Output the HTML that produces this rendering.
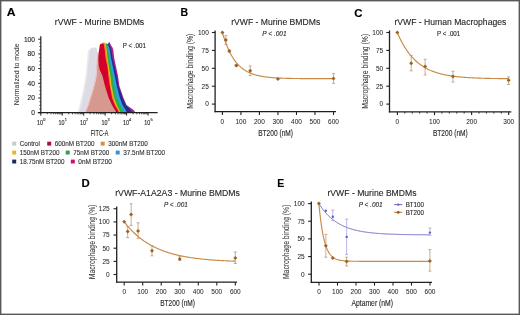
<!DOCTYPE html>
<html><head><meta charset="utf-8"><style>
html,body{margin:0;padding:0;background:#fff;}
.fig{position:relative;width:520px;height:315px;overflow:hidden;background:#fff;}
svg{position:absolute;left:0;top:0;will-change:transform;}
text{font-family:"Liberation Sans", sans-serif;}
</style></head><body><div class="fig">
<svg width="520" height="315" viewBox="0 0 520 315">
<rect x="0" y="0" width="520" height="315" fill="#fff"/>
<text x="6.70" y="16.10" font-size="11.4" fill="#000" stroke="#000" stroke-width="0.12" font-weight="bold" textLength="8.8" lengthAdjust="spacingAndGlyphs">A</text>
<text x="180.50" y="16.30" font-size="11.4" fill="#000" stroke="#000" stroke-width="0.12" font-weight="bold" textLength="7.6" lengthAdjust="spacingAndGlyphs">B</text>
<text x="354.20" y="16.60" font-size="11.4" fill="#000" stroke="#000" stroke-width="0.12" font-weight="bold">C</text>
<text x="81.40" y="187.00" font-size="11.4" fill="#000" stroke="#000" stroke-width="0.12" font-weight="bold">D</text>
<text x="277.20" y="187.00" font-size="11.4" fill="#000" stroke="#000" stroke-width="0.12" font-weight="bold" textLength="7.0" lengthAdjust="spacingAndGlyphs">E</text>
<text x="54.80" y="25.30" font-size="9.2" fill="#231f20" stroke="#231f20" stroke-width="0.12" textLength="89.4" lengthAdjust="spacingAndGlyphs">rVWF - Murine BMDMs</text>
<text x="122.70" y="47.90" font-size="6.5" fill="#231f20" stroke="#231f20" stroke-width="0.12" textLength="23.3" lengthAdjust="spacingAndGlyphs">P &lt; .001</text>
<path d="M88.00,112.70 L88.30,111.00 L90.50,105.00 L93.50,95.00 L95.30,88.00 L97.00,80.00 L98.30,75.00 L102.50,65.00 L104.20,55.00 L105.10,50.00 L105.80,45.00 L108.20,43.50 L109.30,41.80 L110.30,44.00 L111.50,46.00 L112.50,47.50 L113.30,50.00 L114.20,58.00 L115.90,66.00 L118.00,76.00 L119.40,86.00 L123.50,98.00 L126.50,105.00 L133.70,110.00 L135.50,112.70 Z" fill="#b0208f"/>
<path d="M87.50,112.70 L87.80,111.00 L90.00,105.00 L93.00,95.00 L94.80,88.00 L96.50,80.00 L97.80,75.00 L101.50,65.00 L103.20,55.00 L104.10,50.00 L104.80,45.00 L107.50,44.50 L108.50,43.60 L109.50,45.00 L110.50,47.50 L111.30,50.00 L112.50,58.00 L114.50,66.00 L116.80,76.00 L118.50,86.00 L122.80,98.00 L125.80,105.00 L130.60,110.00 L132.50,112.70 Z" fill="#1f2f8a"/>
<path d="M87.00,112.70 L87.30,111.00 L89.50,105.00 L92.50,95.00 L94.30,88.00 L96.00,80.00 L97.30,75.00 L100.50,65.00 L102.20,55.00 L103.10,50.00 L103.80,45.00 L106.80,44.00 L107.80,44.50 L108.80,46.50 L109.90,50.00 L111.00,58.00 L112.70,66.00 L114.80,76.00 L116.80,86.00 L119.90,98.00 L122.50,105.00 L125.70,110.00 L127.00,112.70 Z" fill="#2f9ee0"/>
<path d="M86.50,112.70 L86.80,111.00 L89.00,105.00 L92.00,95.00 L93.80,88.00 L95.50,80.00 L96.80,75.00 L99.50,65.00 L101.20,55.00 L102.10,50.00 L102.80,45.00 L105.50,43.50 L106.50,43.20 L107.50,45.50 L108.10,50.00 L109.30,58.00 L110.70,66.00 L112.70,76.00 L114.40,86.00 L116.70,98.00 L120.00,105.00 L122.60,110.00 L124.00,112.70 Z" fill="#2fae48"/>
<path d="M86.00,112.70 L86.30,111.00 L88.50,105.00 L91.50,95.00 L93.30,88.00 L95.00,80.00 L96.30,75.00 L98.50,65.00 L100.20,55.00 L101.10,50.00 L101.80,45.00 L103.30,42.60 L104.30,42.30 L105.30,43.30 L106.00,46.00 L106.60,50.00 L107.50,58.00 L108.70,66.00 L110.30,76.00 L111.50,86.00 L114.00,98.00 L116.80,105.00 L119.20,110.00 L120.50,112.70 Z" fill="#f8c81a"/>
<path d="M85.60,112.70 L85.90,111.00 L88.10,105.00 L91.10,95.00 L92.90,88.00 L94.60,80.00 L95.90,75.00 L97.70,65.00 L99.40,55.00 L100.30,50.00 L101.00,45.00 L102.50,43.00 L103.50,42.60 L104.50,43.00 L105.30,46.00 L106.00,50.00 L107.00,58.00 L108.10,66.00 L109.60,76.00 L110.70,86.00 L113.30,98.00 L116.00,105.00 L118.60,110.00 L120.00,112.70 Z" fill="#f0861e"/>
<path d="M85.00,112.70 L85.30,111.00 L87.50,105.00 L90.50,95.00 L92.30,88.00 L94.00,80.00 L95.30,75.00 L96.50,65.00 L98.20,55.00 L99.10,50.00 L99.80,45.00 L100.00,44.50 L101.00,43.70 L102.50,43.50 L103.80,44.20 L104.70,50.00 L105.50,58.00 L107.30,66.00 L108.40,76.00 L109.80,86.00 L112.10,98.00 L114.80,105.00 L117.70,110.00 L119.00,112.70 Z" fill="#d2002a"/>
<path d="M77.40,112.70 L78.00,111.00 L79.60,105.00 L82.00,95.00 L84.90,80.00 L86.10,70.00 L87.10,60.00 L87.70,52.00 L88.10,50.60 L90.00,49.50 L97.20,52.00 L96.60,65.00 L96.00,75.00 L95.20,80.00 L93.20,88.00 L91.00,95.00 L88.00,105.00 L85.50,111.00 L85.00,112.70 Z" fill="#ebebef"/>
<path d="M79.00,112.70 L79.60,111.00 L81.20,105.00 L83.60,95.00 L86.50,80.00 L87.70,70.00 L88.70,60.00 L89.30,52.00 L89.70,50.60 L90.30,48.60 L90.80,49.30 L91.50,47.60 L92.20,48.40 L92.80,46.80 L93.50,47.90 L94.20,47.10 L95.00,48.10 L95.80,47.40 L96.50,48.60 L97.00,49.80 L97.20,52.00 L96.60,65.00 L96.00,75.00 L95.20,80.00 L93.20,88.00 L91.00,95.00 L88.00,105.00 L85.50,111.00 L85.00,112.70 Z" fill="#dddce5"/>
<path d="M97.20,52.00 L96.60,65.00 L96.00,75.00 L95.20,80.00 L93.20,88.00 L91.00,95.00 L88.00,105.00 L85.50,111.00 L85.00,112.70 L116.50,112.70 L115.00,110.00 L112.00,105.00 L108.70,98.00 L105.00,86.00 L102.50,76.00 L99.80,70.00 L98.80,66.00 L98.40,60.00 L98.50,53.00 Z" fill="#d6988f"/>
<path d="M97.50,52.00 L96.90,65.00 L96.30,75.00 L95.50,80.00 L93.50,88.00 L91.30,95.00 L88.30,105.00 L85.80,111.00 L85.30,112.70" fill="none" stroke="#f0d4d2" stroke-width="0.9"/>
<line x1="40.80" y1="36.30" x2="40.80" y2="113.20" stroke="#231f20" stroke-width="1.2"/>
<line x1="37.80" y1="112.70" x2="157.60" y2="112.70" stroke="#231f20" stroke-width="1.2"/>
<line x1="38.20" y1="112.70" x2="40.80" y2="112.70" stroke="#231f20" stroke-width="1"/>
<text x="34.90" y="115.10" font-size="6.6" fill="#231f20" stroke="#231f20" stroke-width="0.12" text-anchor="end">0</text>
<line x1="39.40" y1="109.03" x2="40.80" y2="109.03" stroke="#231f20" stroke-width="0.9"/>
<line x1="39.40" y1="105.35" x2="40.80" y2="105.35" stroke="#231f20" stroke-width="0.9"/>
<line x1="39.40" y1="101.68" x2="40.80" y2="101.68" stroke="#231f20" stroke-width="0.9"/>
<line x1="38.20" y1="98.00" x2="40.80" y2="98.00" stroke="#231f20" stroke-width="1"/>
<text x="34.90" y="100.40" font-size="6.6" fill="#231f20" stroke="#231f20" stroke-width="0.12" text-anchor="end">20</text>
<line x1="39.40" y1="94.33" x2="40.80" y2="94.33" stroke="#231f20" stroke-width="0.9"/>
<line x1="39.40" y1="90.65" x2="40.80" y2="90.65" stroke="#231f20" stroke-width="0.9"/>
<line x1="39.40" y1="86.97" x2="40.80" y2="86.97" stroke="#231f20" stroke-width="0.9"/>
<line x1="38.20" y1="83.30" x2="40.80" y2="83.30" stroke="#231f20" stroke-width="1"/>
<text x="34.90" y="85.70" font-size="6.6" fill="#231f20" stroke="#231f20" stroke-width="0.12" text-anchor="end">40</text>
<line x1="39.40" y1="79.63" x2="40.80" y2="79.63" stroke="#231f20" stroke-width="0.9"/>
<line x1="39.40" y1="75.95" x2="40.80" y2="75.95" stroke="#231f20" stroke-width="0.9"/>
<line x1="39.40" y1="72.28" x2="40.80" y2="72.28" stroke="#231f20" stroke-width="0.9"/>
<line x1="38.20" y1="68.60" x2="40.80" y2="68.60" stroke="#231f20" stroke-width="1"/>
<text x="34.90" y="71.00" font-size="6.6" fill="#231f20" stroke="#231f20" stroke-width="0.12" text-anchor="end">60</text>
<line x1="39.40" y1="64.93" x2="40.80" y2="64.93" stroke="#231f20" stroke-width="0.9"/>
<line x1="39.40" y1="61.25" x2="40.80" y2="61.25" stroke="#231f20" stroke-width="0.9"/>
<line x1="39.40" y1="57.58" x2="40.80" y2="57.58" stroke="#231f20" stroke-width="0.9"/>
<line x1="38.20" y1="53.90" x2="40.80" y2="53.90" stroke="#231f20" stroke-width="1"/>
<text x="34.90" y="56.30" font-size="6.6" fill="#231f20" stroke="#231f20" stroke-width="0.12" text-anchor="end">80</text>
<line x1="39.40" y1="50.23" x2="40.80" y2="50.23" stroke="#231f20" stroke-width="0.9"/>
<line x1="39.40" y1="46.55" x2="40.80" y2="46.55" stroke="#231f20" stroke-width="0.9"/>
<line x1="39.40" y1="42.88" x2="40.80" y2="42.88" stroke="#231f20" stroke-width="0.9"/>
<line x1="38.20" y1="39.20" x2="40.80" y2="39.20" stroke="#231f20" stroke-width="1"/>
<text x="34.90" y="41.60" font-size="6.6" fill="#231f20" stroke="#231f20" stroke-width="0.12" text-anchor="end">100</text>
<line x1="40.80" y1="112.70" x2="40.80" y2="115.60" stroke="#231f20" stroke-width="1"/>
<text x="37.10" y="124.90" font-size="6.4" fill="#231f20" stroke="#231f20" stroke-width="0.12" textLength="6.0" lengthAdjust="spacingAndGlyphs">10</text>
<text x="43.20" y="121.30" font-size="3.9" fill="#231f20" stroke="#231f20" stroke-width="0.12">0</text>
<line x1="47.26" y1="112.70" x2="47.26" y2="114.30" stroke="#231f20" stroke-width="0.8"/>
<line x1="51.03" y1="112.70" x2="51.03" y2="114.30" stroke="#231f20" stroke-width="0.8"/>
<line x1="53.71" y1="112.70" x2="53.71" y2="114.30" stroke="#231f20" stroke-width="0.8"/>
<line x1="55.79" y1="112.70" x2="55.79" y2="114.30" stroke="#231f20" stroke-width="0.8"/>
<line x1="57.49" y1="112.70" x2="57.49" y2="114.30" stroke="#231f20" stroke-width="0.8"/>
<line x1="58.93" y1="112.70" x2="58.93" y2="114.30" stroke="#231f20" stroke-width="0.8"/>
<line x1="60.17" y1="112.70" x2="60.17" y2="114.30" stroke="#231f20" stroke-width="0.8"/>
<line x1="61.27" y1="112.70" x2="61.27" y2="114.30" stroke="#231f20" stroke-width="0.8"/>
<line x1="62.25" y1="112.70" x2="62.25" y2="115.60" stroke="#231f20" stroke-width="1"/>
<text x="58.55" y="124.90" font-size="6.4" fill="#231f20" stroke="#231f20" stroke-width="0.12" textLength="6.0" lengthAdjust="spacingAndGlyphs">10</text>
<text x="64.65" y="121.30" font-size="3.9" fill="#231f20" stroke="#231f20" stroke-width="0.12">1</text>
<line x1="68.71" y1="112.70" x2="68.71" y2="114.30" stroke="#231f20" stroke-width="0.8"/>
<line x1="72.48" y1="112.70" x2="72.48" y2="114.30" stroke="#231f20" stroke-width="0.8"/>
<line x1="75.16" y1="112.70" x2="75.16" y2="114.30" stroke="#231f20" stroke-width="0.8"/>
<line x1="77.24" y1="112.70" x2="77.24" y2="114.30" stroke="#231f20" stroke-width="0.8"/>
<line x1="78.94" y1="112.70" x2="78.94" y2="114.30" stroke="#231f20" stroke-width="0.8"/>
<line x1="80.38" y1="112.70" x2="80.38" y2="114.30" stroke="#231f20" stroke-width="0.8"/>
<line x1="81.62" y1="112.70" x2="81.62" y2="114.30" stroke="#231f20" stroke-width="0.8"/>
<line x1="82.72" y1="112.70" x2="82.72" y2="114.30" stroke="#231f20" stroke-width="0.8"/>
<line x1="83.70" y1="112.70" x2="83.70" y2="115.60" stroke="#231f20" stroke-width="1"/>
<text x="80.00" y="124.90" font-size="6.4" fill="#231f20" stroke="#231f20" stroke-width="0.12" textLength="6.0" lengthAdjust="spacingAndGlyphs">10</text>
<text x="86.10" y="121.30" font-size="3.9" fill="#231f20" stroke="#231f20" stroke-width="0.12">2</text>
<line x1="90.16" y1="112.70" x2="90.16" y2="114.30" stroke="#231f20" stroke-width="0.8"/>
<line x1="93.93" y1="112.70" x2="93.93" y2="114.30" stroke="#231f20" stroke-width="0.8"/>
<line x1="96.61" y1="112.70" x2="96.61" y2="114.30" stroke="#231f20" stroke-width="0.8"/>
<line x1="98.69" y1="112.70" x2="98.69" y2="114.30" stroke="#231f20" stroke-width="0.8"/>
<line x1="100.39" y1="112.70" x2="100.39" y2="114.30" stroke="#231f20" stroke-width="0.8"/>
<line x1="101.83" y1="112.70" x2="101.83" y2="114.30" stroke="#231f20" stroke-width="0.8"/>
<line x1="103.07" y1="112.70" x2="103.07" y2="114.30" stroke="#231f20" stroke-width="0.8"/>
<line x1="104.17" y1="112.70" x2="104.17" y2="114.30" stroke="#231f20" stroke-width="0.8"/>
<line x1="105.15" y1="112.70" x2="105.15" y2="115.60" stroke="#231f20" stroke-width="1"/>
<text x="101.45" y="124.90" font-size="6.4" fill="#231f20" stroke="#231f20" stroke-width="0.12" textLength="6.0" lengthAdjust="spacingAndGlyphs">10</text>
<text x="107.55" y="121.30" font-size="3.9" fill="#231f20" stroke="#231f20" stroke-width="0.12">3</text>
<line x1="111.61" y1="112.70" x2="111.61" y2="114.30" stroke="#231f20" stroke-width="0.8"/>
<line x1="115.38" y1="112.70" x2="115.38" y2="114.30" stroke="#231f20" stroke-width="0.8"/>
<line x1="118.06" y1="112.70" x2="118.06" y2="114.30" stroke="#231f20" stroke-width="0.8"/>
<line x1="120.14" y1="112.70" x2="120.14" y2="114.30" stroke="#231f20" stroke-width="0.8"/>
<line x1="121.84" y1="112.70" x2="121.84" y2="114.30" stroke="#231f20" stroke-width="0.8"/>
<line x1="123.28" y1="112.70" x2="123.28" y2="114.30" stroke="#231f20" stroke-width="0.8"/>
<line x1="124.52" y1="112.70" x2="124.52" y2="114.30" stroke="#231f20" stroke-width="0.8"/>
<line x1="125.62" y1="112.70" x2="125.62" y2="114.30" stroke="#231f20" stroke-width="0.8"/>
<line x1="126.60" y1="112.70" x2="126.60" y2="115.60" stroke="#231f20" stroke-width="1"/>
<text x="122.90" y="124.90" font-size="6.4" fill="#231f20" stroke="#231f20" stroke-width="0.12" textLength="6.0" lengthAdjust="spacingAndGlyphs">10</text>
<text x="129.00" y="121.30" font-size="3.9" fill="#231f20" stroke="#231f20" stroke-width="0.12">4</text>
<line x1="133.06" y1="112.70" x2="133.06" y2="114.30" stroke="#231f20" stroke-width="0.8"/>
<line x1="136.83" y1="112.70" x2="136.83" y2="114.30" stroke="#231f20" stroke-width="0.8"/>
<line x1="139.51" y1="112.70" x2="139.51" y2="114.30" stroke="#231f20" stroke-width="0.8"/>
<line x1="141.59" y1="112.70" x2="141.59" y2="114.30" stroke="#231f20" stroke-width="0.8"/>
<line x1="143.29" y1="112.70" x2="143.29" y2="114.30" stroke="#231f20" stroke-width="0.8"/>
<line x1="144.73" y1="112.70" x2="144.73" y2="114.30" stroke="#231f20" stroke-width="0.8"/>
<line x1="145.97" y1="112.70" x2="145.97" y2="114.30" stroke="#231f20" stroke-width="0.8"/>
<line x1="147.07" y1="112.70" x2="147.07" y2="114.30" stroke="#231f20" stroke-width="0.8"/>
<line x1="148.05" y1="112.70" x2="148.05" y2="115.60" stroke="#231f20" stroke-width="1"/>
<text x="144.35" y="124.90" font-size="6.4" fill="#231f20" stroke="#231f20" stroke-width="0.12" textLength="6.0" lengthAdjust="spacingAndGlyphs">10</text>
<text x="150.45" y="121.30" font-size="3.9" fill="#231f20" stroke="#231f20" stroke-width="0.12">5</text>
<text x="90.70" y="136.00" font-size="8.3" fill="#231f20" stroke="#231f20" stroke-width="0.12" textLength="17.6" lengthAdjust="spacingAndGlyphs">FITC-A</text>
<text x="18.90" y="74.40" font-size="8.0" fill="#2e2e2e" stroke="#2e2e2e" stroke-width="0.02" text-anchor="middle" textLength="61.8" lengthAdjust="spacingAndGlyphs" transform="rotate(-90 18.90 74.40)">Normalized to mode</text>
<rect x="12.20" y="141.70" width="4.0" height="3.9" fill="#c8c8d0"/>
<text x="19.70" y="146.05" font-size="6.9" fill="#333335" stroke="#333335" stroke-width="0.12" textLength="20.2" lengthAdjust="spacingAndGlyphs">Control</text>
<rect x="47.20" y="141.70" width="4.0" height="3.9" fill="#b01030"/>
<text x="54.70" y="146.05" font-size="6.9" fill="#333335" stroke="#333335" stroke-width="0.12" textLength="39.8" lengthAdjust="spacingAndGlyphs">600nM BT200</text>
<rect x="100.70" y="141.70" width="4.0" height="3.9" fill="#d89040"/>
<text x="108.20" y="146.05" font-size="6.9" fill="#333335" stroke="#333335" stroke-width="0.12" textLength="39.7" lengthAdjust="spacingAndGlyphs">300nM BT200</text>
<rect x="12.20" y="150.60" width="4.0" height="3.9" fill="#e8b820"/>
<text x="19.70" y="154.95" font-size="6.9" fill="#333335" stroke="#333335" stroke-width="0.12" textLength="39.8" lengthAdjust="spacingAndGlyphs">150nM BT200</text>
<rect x="65.70" y="150.60" width="4.0" height="3.9" fill="#3a9a48"/>
<text x="73.20" y="154.95" font-size="6.9" fill="#333335" stroke="#333335" stroke-width="0.12" textLength="36.0" lengthAdjust="spacingAndGlyphs">75nM BT200</text>
<rect x="115.70" y="150.60" width="4.0" height="3.9" fill="#3890d0"/>
<text x="123.20" y="154.95" font-size="6.9" fill="#333335" stroke="#333335" stroke-width="0.12" textLength="42.0" lengthAdjust="spacingAndGlyphs">37.5nM BT200</text>
<rect x="12.20" y="159.60" width="4.0" height="3.9" fill="#1a2a60"/>
<text x="19.70" y="163.95" font-size="6.9" fill="#333335" stroke="#333335" stroke-width="0.12" textLength="44.8" lengthAdjust="spacingAndGlyphs">18.75nM BT200</text>
<rect x="70.80" y="159.60" width="4.0" height="3.9" fill="#d01070"/>
<text x="78.30" y="163.95" font-size="6.9" fill="#333335" stroke="#333335" stroke-width="0.12" textLength="33.6" lengthAdjust="spacingAndGlyphs">0nM BT200</text>
<line x1="215.10" y1="30.40" x2="215.10" y2="112.30" stroke="#231f20" stroke-width="1.3"/>
<line x1="214.50" y1="111.70" x2="336.00" y2="111.70" stroke="#231f20" stroke-width="1.3"/>
<line x1="211.90" y1="104.10" x2="215.10" y2="104.10" stroke="#231f20" stroke-width="1.1"/>
<text x="208.80" y="106.45" font-size="6.5" fill="#2a2a2a" stroke="#2a2a2a" stroke-width="0.05" text-anchor="end">0</text>
<line x1="211.90" y1="86.20" x2="215.10" y2="86.20" stroke="#231f20" stroke-width="1.1"/>
<text x="208.80" y="88.55" font-size="6.5" fill="#2a2a2a" stroke="#2a2a2a" stroke-width="0.05" text-anchor="end">25</text>
<line x1="211.90" y1="68.30" x2="215.10" y2="68.30" stroke="#231f20" stroke-width="1.1"/>
<text x="208.80" y="70.65" font-size="6.5" fill="#2a2a2a" stroke="#2a2a2a" stroke-width="0.05" text-anchor="end">50</text>
<line x1="211.90" y1="50.40" x2="215.10" y2="50.40" stroke="#231f20" stroke-width="1.1"/>
<text x="208.80" y="52.75" font-size="6.5" fill="#2a2a2a" stroke="#2a2a2a" stroke-width="0.05" text-anchor="end">75</text>
<line x1="211.90" y1="32.50" x2="215.10" y2="32.50" stroke="#231f20" stroke-width="1.1"/>
<text x="208.80" y="34.85" font-size="6.5" fill="#2a2a2a" stroke="#2a2a2a" stroke-width="0.05" text-anchor="end">100</text>
<line x1="222.40" y1="111.70" x2="222.40" y2="115.00" stroke="#231f20" stroke-width="1.1"/>
<text x="222.40" y="123.60" font-size="6.5" fill="#2a2a2a" stroke="#2a2a2a" stroke-width="0.05" text-anchor="middle">0</text>
<line x1="240.92" y1="111.70" x2="240.92" y2="115.00" stroke="#231f20" stroke-width="1.1"/>
<text x="240.92" y="123.60" font-size="6.5" fill="#2a2a2a" stroke="#2a2a2a" stroke-width="0.05" text-anchor="middle">100</text>
<line x1="259.44" y1="111.70" x2="259.44" y2="115.00" stroke="#231f20" stroke-width="1.1"/>
<text x="259.44" y="123.60" font-size="6.5" fill="#2a2a2a" stroke="#2a2a2a" stroke-width="0.05" text-anchor="middle">200</text>
<line x1="277.96" y1="111.70" x2="277.96" y2="115.00" stroke="#231f20" stroke-width="1.1"/>
<text x="277.96" y="123.60" font-size="6.5" fill="#2a2a2a" stroke="#2a2a2a" stroke-width="0.05" text-anchor="middle">300</text>
<line x1="296.48" y1="111.70" x2="296.48" y2="115.00" stroke="#231f20" stroke-width="1.1"/>
<text x="296.48" y="123.60" font-size="6.5" fill="#2a2a2a" stroke="#2a2a2a" stroke-width="0.05" text-anchor="middle">400</text>
<line x1="315.00" y1="111.70" x2="315.00" y2="115.00" stroke="#231f20" stroke-width="1.1"/>
<text x="315.00" y="123.60" font-size="6.5" fill="#2a2a2a" stroke="#2a2a2a" stroke-width="0.05" text-anchor="middle">500</text>
<line x1="333.52" y1="111.70" x2="333.52" y2="115.00" stroke="#231f20" stroke-width="1.1"/>
<text x="333.52" y="123.60" font-size="6.5" fill="#2a2a2a" stroke="#2a2a2a" stroke-width="0.05" text-anchor="middle">600</text>
<text x="231.20" y="25.10" font-size="9.2" fill="#231f20" stroke="#231f20" stroke-width="0.12" textLength="89" lengthAdjust="spacingAndGlyphs">rVWF - Murine BMDMs</text>
<text x="262.30" y="35.90" font-size="6.5" fill="#231f20" stroke="#231f20" stroke-width="0.12" font-style="italic" textLength="24.3" lengthAdjust="spacingAndGlyphs">P &lt; .001</text>
<text x="258.20" y="135.50" font-size="8.4" fill="#231f20" stroke="#231f20" stroke-width="0.12" textLength="34.8" lengthAdjust="spacingAndGlyphs">BT200 (nM)</text>
<text x="192.80" y="71.20" font-size="8.4" fill="#2e2e2e" stroke="#2e2e2e" stroke-width="0.02" text-anchor="middle" textLength="75.2" lengthAdjust="spacingAndGlyphs" transform="rotate(-90 192.80 71.20)">Macrophage binding (%)</text>
<path d="M222.40,32.50 L222.96,34.40 L223.51,36.22 L224.07,37.97 L224.62,39.64 L225.18,41.25 L225.73,42.79 L226.29,44.26 L226.84,45.68 L227.40,47.04 L227.96,48.34 L228.51,49.59 L229.07,50.78 L229.62,51.93 L230.18,53.03 L230.73,54.09 L231.29,55.10 L231.85,56.07 L232.40,57.00 L232.96,57.89 L233.51,58.74 L234.07,59.56 L234.62,60.35 L235.18,61.11 L235.73,61.83 L236.29,62.52 L236.85,63.19 L237.40,63.82 L237.96,64.43 L238.51,65.02 L239.07,65.58 L239.62,66.12 L240.18,66.64 L240.73,67.13 L241.29,67.61 L241.85,68.06 L242.40,68.50 L242.96,68.92 L243.51,69.32 L244.07,69.71 L244.62,70.07 L245.18,70.43 L245.74,70.77 L246.29,71.09 L246.85,71.41 L247.40,71.71 L247.96,71.99 L248.51,72.27 L249.07,72.53 L249.62,72.78 L250.18,73.03 L250.74,73.26 L251.29,73.48 L251.85,73.70 L252.40,73.90 L252.96,74.10 L253.51,74.29 L254.07,74.47 L254.62,74.64 L255.18,74.81 L255.74,74.97 L256.29,75.12 L256.85,75.27 L257.40,75.41 L257.96,75.54 L258.51,75.67 L259.07,75.79 L259.63,75.91 L260.18,76.03 L260.74,76.14 L261.29,76.24 L261.85,76.34 L262.40,76.44 L262.96,76.53 L263.51,76.62 L264.07,76.70 L264.63,76.78 L265.18,76.86 L265.74,76.94 L266.29,77.01 L266.85,77.08 L267.40,77.14 L267.96,77.21 L268.51,77.27 L269.07,77.33 L269.63,77.38 L270.18,77.44 L270.74,77.49 L271.29,77.54 L271.85,77.58 L272.40,77.63 L272.96,77.67 L273.52,77.71 L274.07,77.75 L274.63,77.79 L275.18,77.83 L275.74,77.86 L276.29,77.90 L276.85,77.93 L277.40,77.96 L277.96,77.99 L278.52,78.02 L279.07,78.05 L279.63,78.07 L280.18,78.10 L280.74,78.12 L281.29,78.14 L281.85,78.17 L282.40,78.19 L282.96,78.21 L283.52,78.23 L284.07,78.25 L284.63,78.26 L285.18,78.28 L285.74,78.30 L286.29,78.31 L286.85,78.33 L287.41,78.34 L287.96,78.36 L288.52,78.37 L289.07,78.38 L289.63,78.40 L290.18,78.41 L290.74,78.42 L291.29,78.43 L291.85,78.44 L292.41,78.45 L292.96,78.46 L293.52,78.47 L294.07,78.48 L294.63,78.49 L295.18,78.49 L295.74,78.50 L296.29,78.51 L296.85,78.52 L297.41,78.52 L297.96,78.53 L298.52,78.54 L299.07,78.54 L299.63,78.55 L300.18,78.55 L300.74,78.56 L301.30,78.56 L301.85,78.57 L302.41,78.57 L302.96,78.58 L303.52,78.58 L304.07,78.59 L304.63,78.59 L305.18,78.59 L305.74,78.60 L306.30,78.60 L306.85,78.60 L307.41,78.61 L307.96,78.61 L308.52,78.61 L309.07,78.62 L309.63,78.62 L310.18,78.62 L310.74,78.62 L311.30,78.63 L311.85,78.63 L312.41,78.63 L312.96,78.63 L313.52,78.63 L314.07,78.64 L314.63,78.64 L315.19,78.64 L315.74,78.64 L316.30,78.64 L316.85,78.65 L317.41,78.65 L317.96,78.65 L318.52,78.65 L319.07,78.65 L319.63,78.65 L320.19,78.65 L320.74,78.65 L321.30,78.66 L321.85,78.66 L322.41,78.66 L322.96,78.66 L323.52,78.66 L324.07,78.66 L324.63,78.66 L325.19,78.66 L325.74,78.66 L326.30,78.66 L326.85,78.66 L327.41,78.67 L327.96,78.67 L328.52,78.67 L329.08,78.67 L329.63,78.67 L330.19,78.67 L330.74,78.67 L331.30,78.67 L331.85,78.67 L332.41,78.67 L332.96,78.67 L333.52,78.67" fill="none" stroke="#c88a44" stroke-width="1.15"/>
<path d="M222.40,30.50 L224.40,32.50 L222.40,34.50 L220.40,32.50 Z" fill="#9a6426"/>
<line x1="225.87" y1="35.65" x2="225.87" y2="44.53" stroke="#bf9870" stroke-width="0.8"/>
<line x1="224.37" y1="35.65" x2="227.37" y2="35.65" stroke="#bf9870" stroke-width="0.8"/>
<line x1="224.37" y1="44.53" x2="227.37" y2="44.53" stroke="#bf9870" stroke-width="0.8"/>
<path d="M225.87,38.09 L227.87,40.09 L225.87,42.09 L223.87,40.09 Z" fill="#9a6426"/>
<line x1="229.34" y1="50.04" x2="229.34" y2="52.19" stroke="#bf9870" stroke-width="0.8"/>
<line x1="227.84" y1="50.04" x2="230.84" y2="50.04" stroke="#bf9870" stroke-width="0.8"/>
<line x1="227.84" y1="52.19" x2="230.84" y2="52.19" stroke="#bf9870" stroke-width="0.8"/>
<path d="M229.34,49.12 L231.34,51.12 L229.34,53.12 L227.34,51.12 Z" fill="#9a6426"/>
<line x1="236.29" y1="64.36" x2="236.29" y2="66.51" stroke="#bf9870" stroke-width="0.8"/>
<line x1="234.79" y1="64.36" x2="237.79" y2="64.36" stroke="#bf9870" stroke-width="0.8"/>
<line x1="234.79" y1="66.51" x2="237.79" y2="66.51" stroke="#bf9870" stroke-width="0.8"/>
<path d="M236.29,63.44 L238.29,65.44 L236.29,67.44 L234.29,65.44 Z" fill="#9a6426"/>
<line x1="250.18" y1="65.94" x2="250.18" y2="75.67" stroke="#bf9870" stroke-width="0.8"/>
<line x1="248.68" y1="65.94" x2="251.68" y2="65.94" stroke="#bf9870" stroke-width="0.8"/>
<line x1="248.68" y1="75.67" x2="251.68" y2="75.67" stroke="#bf9870" stroke-width="0.8"/>
<path d="M250.18,68.81 L252.18,70.81 L250.18,72.81 L248.18,70.81 Z" fill="#9a6426"/>
<path d="M277.96,77.04 L279.96,79.04 L277.96,81.04 L275.96,79.04 Z" fill="#9a6426"/>
<line x1="333.52" y1="73.60" x2="333.52" y2="83.34" stroke="#bf9870" stroke-width="0.8"/>
<line x1="332.02" y1="73.60" x2="335.02" y2="73.60" stroke="#bf9870" stroke-width="0.8"/>
<line x1="332.02" y1="83.34" x2="335.02" y2="83.34" stroke="#bf9870" stroke-width="0.8"/>
<path d="M333.52,76.47 L335.52,78.47 L333.52,80.47 L331.52,78.47 Z" fill="#9a6426"/>
<line x1="389.50" y1="30.40" x2="389.50" y2="112.40" stroke="#231f20" stroke-width="1.3"/>
<line x1="388.90" y1="111.80" x2="511.30" y2="111.80" stroke="#231f20" stroke-width="1.3"/>
<line x1="386.30" y1="104.10" x2="389.50" y2="104.10" stroke="#231f20" stroke-width="1.1"/>
<text x="383.20" y="106.45" font-size="6.5" fill="#2a2a2a" stroke="#2a2a2a" stroke-width="0.05" text-anchor="end">0</text>
<line x1="386.30" y1="86.20" x2="389.50" y2="86.20" stroke="#231f20" stroke-width="1.1"/>
<text x="383.20" y="88.55" font-size="6.5" fill="#2a2a2a" stroke="#2a2a2a" stroke-width="0.05" text-anchor="end">25</text>
<line x1="386.30" y1="68.30" x2="389.50" y2="68.30" stroke="#231f20" stroke-width="1.1"/>
<text x="383.20" y="70.65" font-size="6.5" fill="#2a2a2a" stroke="#2a2a2a" stroke-width="0.05" text-anchor="end">50</text>
<line x1="386.30" y1="50.40" x2="389.50" y2="50.40" stroke="#231f20" stroke-width="1.1"/>
<text x="383.20" y="52.75" font-size="6.5" fill="#2a2a2a" stroke="#2a2a2a" stroke-width="0.05" text-anchor="end">75</text>
<line x1="386.30" y1="32.50" x2="389.50" y2="32.50" stroke="#231f20" stroke-width="1.1"/>
<text x="383.20" y="34.85" font-size="6.5" fill="#2a2a2a" stroke="#2a2a2a" stroke-width="0.05" text-anchor="end">100</text>
<line x1="397.40" y1="111.80" x2="397.40" y2="115.10" stroke="#231f20" stroke-width="1.1"/>
<text x="397.40" y="123.70" font-size="6.5" fill="#2a2a2a" stroke="#2a2a2a" stroke-width="0.05" text-anchor="middle">0</text>
<line x1="434.50" y1="111.80" x2="434.50" y2="115.10" stroke="#231f20" stroke-width="1.1"/>
<text x="434.50" y="123.70" font-size="6.5" fill="#2a2a2a" stroke="#2a2a2a" stroke-width="0.05" text-anchor="middle">100</text>
<line x1="471.60" y1="111.80" x2="471.60" y2="115.10" stroke="#231f20" stroke-width="1.1"/>
<text x="471.60" y="123.70" font-size="6.5" fill="#2a2a2a" stroke="#2a2a2a" stroke-width="0.05" text-anchor="middle">200</text>
<line x1="508.70" y1="111.80" x2="508.70" y2="115.10" stroke="#231f20" stroke-width="1.1"/>
<text x="508.70" y="123.70" font-size="6.5" fill="#2a2a2a" stroke="#2a2a2a" stroke-width="0.05" text-anchor="middle">300</text>
<line x1="404.82" y1="111.80" x2="404.82" y2="113.60" stroke="#231f20" stroke-width="0.9"/>
<line x1="412.24" y1="111.80" x2="412.24" y2="113.60" stroke="#231f20" stroke-width="0.9"/>
<line x1="419.66" y1="111.80" x2="419.66" y2="113.60" stroke="#231f20" stroke-width="0.9"/>
<line x1="427.08" y1="111.80" x2="427.08" y2="113.60" stroke="#231f20" stroke-width="0.9"/>
<line x1="441.92" y1="111.80" x2="441.92" y2="113.60" stroke="#231f20" stroke-width="0.9"/>
<line x1="449.34" y1="111.80" x2="449.34" y2="113.60" stroke="#231f20" stroke-width="0.9"/>
<line x1="456.76" y1="111.80" x2="456.76" y2="113.60" stroke="#231f20" stroke-width="0.9"/>
<line x1="464.18" y1="111.80" x2="464.18" y2="113.60" stroke="#231f20" stroke-width="0.9"/>
<line x1="479.02" y1="111.80" x2="479.02" y2="113.60" stroke="#231f20" stroke-width="0.9"/>
<line x1="486.44" y1="111.80" x2="486.44" y2="113.60" stroke="#231f20" stroke-width="0.9"/>
<line x1="493.86" y1="111.80" x2="493.86" y2="113.60" stroke="#231f20" stroke-width="0.9"/>
<line x1="501.28" y1="111.80" x2="501.28" y2="113.60" stroke="#231f20" stroke-width="0.9"/>
<text x="394.50" y="25.10" font-size="9.2" fill="#231f20" stroke="#231f20" stroke-width="0.12" textLength="111.8" lengthAdjust="spacingAndGlyphs">rVWF - Human Macrophages</text>
<text x="437.00" y="36.00" font-size="6.4" fill="#231f20" stroke="#231f20" stroke-width="0.12" textLength="23.3" lengthAdjust="spacingAndGlyphs">P &lt; .001</text>
<text x="367.80" y="71.30" font-size="8.4" fill="#2e2e2e" stroke="#2e2e2e" stroke-width="0.02" text-anchor="middle" textLength="75.0" lengthAdjust="spacingAndGlyphs" transform="rotate(-90 367.80 71.30)">Macrophage binding (%)</text>
<text x="432.90" y="135.60" font-size="8.4" fill="#231f20" stroke="#231f20" stroke-width="0.12" textLength="34.9" lengthAdjust="spacingAndGlyphs">BT200 (nM)</text>
<path d="M397.30,32.50 L397.86,33.80 L398.41,35.07 L398.97,36.30 L399.53,37.49 L400.08,38.65 L400.64,39.78 L401.20,40.88 L401.75,41.94 L402.31,42.98 L402.87,43.99 L403.42,44.97 L403.98,45.92 L404.53,46.84 L405.09,47.74 L405.65,48.61 L406.20,49.46 L406.76,50.29 L407.32,51.09 L407.87,51.87 L408.43,52.63 L408.99,53.36 L409.54,54.08 L410.10,54.77 L410.66,55.45 L411.21,56.11 L411.77,56.74 L412.33,57.37 L412.88,57.97 L413.44,58.55 L414.00,59.12 L414.55,59.68 L415.11,60.22 L415.66,60.74 L416.22,61.25 L416.78,61.74 L417.33,62.22 L417.89,62.69 L418.45,63.14 L419.00,63.58 L419.56,64.01 L420.12,64.43 L420.67,64.83 L421.23,65.22 L421.79,65.61 L422.34,65.98 L422.90,66.34 L423.46,66.69 L424.01,67.03 L424.57,67.36 L425.12,67.68 L425.68,68.00 L426.24,68.30 L426.79,68.60 L427.35,68.88 L427.91,69.16 L428.46,69.43 L429.02,69.70 L429.58,69.96 L430.13,70.20 L430.69,70.45 L431.25,70.68 L431.80,70.91 L432.36,71.13 L432.92,71.35 L433.47,71.56 L434.03,71.76 L434.59,71.96 L435.14,72.15 L435.70,72.34 L436.25,72.52 L436.81,72.70 L437.37,72.87 L437.92,73.04 L438.48,73.20 L439.04,73.36 L439.59,73.51 L440.15,73.66 L440.71,73.81 L441.26,73.95 L441.82,74.09 L442.38,74.22 L442.93,74.35 L443.49,74.48 L444.05,74.60 L444.60,74.72 L445.16,74.83 L445.72,74.94 L446.27,75.05 L446.83,75.16 L447.38,75.26 L447.94,75.36 L448.50,75.46 L449.05,75.55 L449.61,75.65 L450.17,75.74 L450.72,75.82 L451.28,75.91 L451.84,75.99 L452.39,76.07 L452.95,76.15 L453.51,76.22 L454.06,76.29 L454.62,76.37 L455.18,76.43 L455.73,76.50 L456.29,76.57 L456.85,76.63 L457.40,76.69 L457.96,76.75 L458.51,76.81 L459.07,76.87 L459.63,76.92 L460.18,76.98 L460.74,77.03 L461.30,77.08 L461.85,77.13 L462.41,77.17 L462.97,77.22 L463.52,77.27 L464.08,77.31 L464.64,77.35 L465.19,77.39 L465.75,77.43 L466.31,77.47 L466.86,77.51 L467.42,77.55 L467.98,77.58 L468.53,77.62 L469.09,77.65 L469.64,77.69 L470.20,77.72 L470.76,77.75 L471.31,77.78 L471.87,77.81 L472.43,77.84 L472.98,77.86 L473.54,77.89 L474.10,77.92 L474.65,77.94 L475.21,77.97 L475.77,77.99 L476.32,78.02 L476.88,78.04 L477.44,78.06 L477.99,78.08 L478.55,78.10 L479.11,78.12 L479.66,78.14 L480.22,78.16 L480.77,78.18 L481.33,78.20 L481.89,78.22 L482.44,78.23 L483.00,78.25 L483.56,78.27 L484.11,78.28 L484.67,78.30 L485.23,78.31 L485.78,78.33 L486.34,78.34 L486.90,78.35 L487.45,78.37 L488.01,78.38 L488.57,78.39 L489.12,78.40 L489.68,78.42 L490.24,78.43 L490.79,78.44 L491.35,78.45 L491.91,78.46 L492.46,78.47 L493.02,78.48 L493.57,78.49 L494.13,78.50 L494.69,78.51 L495.24,78.52 L495.80,78.53 L496.36,78.54 L496.91,78.54 L497.47,78.55 L498.03,78.56 L498.58,78.57 L499.14,78.57 L499.70,78.58 L500.25,78.59 L500.81,78.59 L501.37,78.60 L501.92,78.61 L502.48,78.61 L503.04,78.62 L503.59,78.62 L504.15,78.63 L504.70,78.64 L505.26,78.64 L505.82,78.65 L506.37,78.65 L506.93,78.66 L507.49,78.66 L508.04,78.67 L508.60,78.67" fill="none" stroke="#c88a44" stroke-width="1.15"/>
<path d="M397.30,30.50 L399.30,32.50 L397.30,34.50 L395.30,32.50 Z" fill="#9a6426"/>
<line x1="411.21" y1="55.50" x2="411.21" y2="70.80" stroke="#bf9870" stroke-width="0.8"/>
<line x1="409.71" y1="55.50" x2="412.71" y2="55.50" stroke="#bf9870" stroke-width="0.8"/>
<line x1="409.71" y1="70.80" x2="412.71" y2="70.80" stroke="#bf9870" stroke-width="0.8"/>
<path d="M411.21,61.29 L413.21,63.29 L411.21,65.29 L409.21,63.29 Z" fill="#9a6426"/>
<line x1="425.12" y1="59.30" x2="425.12" y2="75.00" stroke="#bf9870" stroke-width="0.8"/>
<line x1="423.62" y1="59.30" x2="426.62" y2="59.30" stroke="#bf9870" stroke-width="0.8"/>
<line x1="423.62" y1="75.00" x2="426.62" y2="75.00" stroke="#bf9870" stroke-width="0.8"/>
<path d="M425.12,64.51 L427.12,66.51 L425.12,68.51 L423.12,66.51 Z" fill="#9a6426"/>
<line x1="452.95" y1="71.30" x2="452.95" y2="82.00" stroke="#bf9870" stroke-width="0.8"/>
<line x1="451.45" y1="71.30" x2="454.45" y2="71.30" stroke="#bf9870" stroke-width="0.8"/>
<line x1="451.45" y1="82.00" x2="454.45" y2="82.00" stroke="#bf9870" stroke-width="0.8"/>
<path d="M452.95,74.53 L454.95,76.53 L452.95,78.53 L450.95,76.53 Z" fill="#9a6426"/>
<line x1="508.60" y1="76.80" x2="508.60" y2="84.50" stroke="#bf9870" stroke-width="0.8"/>
<line x1="507.10" y1="76.80" x2="510.10" y2="76.80" stroke="#bf9870" stroke-width="0.8"/>
<line x1="507.10" y1="84.50" x2="510.10" y2="84.50" stroke="#bf9870" stroke-width="0.8"/>
<path d="M508.60,78.26 L510.60,80.26 L508.60,82.26 L506.60,80.26 Z" fill="#9a6426"/>
<line x1="116.70" y1="206.50" x2="116.70" y2="282.80" stroke="#231f20" stroke-width="1.3"/>
<line x1="116.10" y1="282.20" x2="237.00" y2="282.20" stroke="#231f20" stroke-width="1.3"/>
<line x1="113.50" y1="274.50" x2="116.70" y2="274.50" stroke="#231f20" stroke-width="1.1"/>
<text x="109.70" y="276.85" font-size="6.5" fill="#2a2a2a" stroke="#2a2a2a" stroke-width="0.05" text-anchor="end">0</text>
<line x1="113.50" y1="261.35" x2="116.70" y2="261.35" stroke="#231f20" stroke-width="1.1"/>
<text x="109.70" y="263.70" font-size="6.5" fill="#2a2a2a" stroke="#2a2a2a" stroke-width="0.05" text-anchor="end">25</text>
<line x1="113.50" y1="248.20" x2="116.70" y2="248.20" stroke="#231f20" stroke-width="1.1"/>
<text x="109.70" y="250.55" font-size="6.5" fill="#2a2a2a" stroke="#2a2a2a" stroke-width="0.05" text-anchor="end">50</text>
<line x1="113.50" y1="235.05" x2="116.70" y2="235.05" stroke="#231f20" stroke-width="1.1"/>
<text x="109.70" y="237.40" font-size="6.5" fill="#2a2a2a" stroke="#2a2a2a" stroke-width="0.05" text-anchor="end">75</text>
<line x1="113.50" y1="221.90" x2="116.70" y2="221.90" stroke="#231f20" stroke-width="1.1"/>
<text x="109.70" y="224.25" font-size="6.5" fill="#2a2a2a" stroke="#2a2a2a" stroke-width="0.05" text-anchor="end">100</text>
<line x1="113.50" y1="208.75" x2="116.70" y2="208.75" stroke="#231f20" stroke-width="1.1"/>
<text x="109.70" y="211.10" font-size="6.5" fill="#2a2a2a" stroke="#2a2a2a" stroke-width="0.05" text-anchor="end">125</text>
<line x1="124.20" y1="282.20" x2="124.20" y2="285.50" stroke="#231f20" stroke-width="1.1"/>
<text x="124.20" y="294.10" font-size="6.5" fill="#2a2a2a" stroke="#2a2a2a" stroke-width="0.05" text-anchor="middle">0</text>
<line x1="142.72" y1="282.20" x2="142.72" y2="285.50" stroke="#231f20" stroke-width="1.1"/>
<text x="142.72" y="294.10" font-size="6.5" fill="#2a2a2a" stroke="#2a2a2a" stroke-width="0.05" text-anchor="middle">100</text>
<line x1="161.24" y1="282.20" x2="161.24" y2="285.50" stroke="#231f20" stroke-width="1.1"/>
<text x="161.24" y="294.10" font-size="6.5" fill="#2a2a2a" stroke="#2a2a2a" stroke-width="0.05" text-anchor="middle">200</text>
<line x1="179.76" y1="282.20" x2="179.76" y2="285.50" stroke="#231f20" stroke-width="1.1"/>
<text x="179.76" y="294.10" font-size="6.5" fill="#2a2a2a" stroke="#2a2a2a" stroke-width="0.05" text-anchor="middle">300</text>
<line x1="198.28" y1="282.20" x2="198.28" y2="285.50" stroke="#231f20" stroke-width="1.1"/>
<text x="198.28" y="294.10" font-size="6.5" fill="#2a2a2a" stroke="#2a2a2a" stroke-width="0.05" text-anchor="middle">400</text>
<line x1="216.80" y1="282.20" x2="216.80" y2="285.50" stroke="#231f20" stroke-width="1.1"/>
<text x="216.80" y="294.10" font-size="6.5" fill="#2a2a2a" stroke="#2a2a2a" stroke-width="0.05" text-anchor="middle">500</text>
<line x1="235.32" y1="282.20" x2="235.32" y2="285.50" stroke="#231f20" stroke-width="1.1"/>
<text x="235.32" y="294.10" font-size="6.5" fill="#2a2a2a" stroke="#2a2a2a" stroke-width="0.05" text-anchor="middle">600</text>
<text x="115.20" y="195.70" font-size="9.2" fill="#231f20" stroke="#231f20" stroke-width="0.12" textLength="124.7" lengthAdjust="spacingAndGlyphs">rVWF-A1A2A3 - Murine BMDMs</text>
<text x="164.00" y="206.60" font-size="6.5" fill="#231f20" stroke="#231f20" stroke-width="0.12" font-style="italic" textLength="23.8" lengthAdjust="spacingAndGlyphs">P &lt; .001</text>
<text x="160.20" y="306.20" font-size="8.4" fill="#231f20" stroke="#231f20" stroke-width="0.12" textLength="34.8" lengthAdjust="spacingAndGlyphs">BT200 (nM)</text>
<text x="94.80" y="241.80" font-size="8.4" fill="#2e2e2e" stroke="#2e2e2e" stroke-width="0.02" text-anchor="middle" textLength="74.8" lengthAdjust="spacingAndGlyphs" transform="rotate(-90 94.80 241.80)">Macrophage binding (%)</text>
<path d="M124.20,221.80 L124.76,222.52 L125.31,223.23 L125.87,223.93 L126.42,224.61 L126.98,225.29 L127.53,225.95 L128.09,226.59 L128.64,227.23 L129.20,227.86 L129.76,228.47 L130.31,229.08 L130.87,229.67 L131.42,230.25 L131.98,230.82 L132.53,231.38 L133.09,231.94 L133.65,232.48 L134.20,233.01 L134.76,233.53 L135.31,234.04 L135.87,234.55 L136.42,235.04 L136.98,235.53 L137.53,236.01 L138.09,236.48 L138.65,236.94 L139.20,237.39 L139.76,237.83 L140.31,238.27 L140.87,238.70 L141.42,239.12 L141.98,239.53 L142.53,239.94 L143.09,240.34 L143.65,240.73 L144.20,241.12 L144.76,241.49 L145.31,241.86 L145.87,242.23 L146.42,242.59 L146.98,242.94 L147.54,243.28 L148.09,243.62 L148.65,243.96 L149.20,244.28 L149.76,244.61 L150.31,244.92 L150.87,245.23 L151.42,245.54 L151.98,245.84 L152.54,246.13 L153.09,246.42 L153.65,246.70 L154.20,246.98 L154.76,247.25 L155.31,247.52 L155.87,247.78 L156.42,248.04 L156.98,248.30 L157.54,248.55 L158.09,248.79 L158.65,249.03 L159.20,249.27 L159.76,249.50 L160.31,249.73 L160.87,249.96 L161.43,250.18 L161.98,250.39 L162.54,250.60 L163.09,250.81 L163.65,251.02 L164.20,251.22 L164.76,251.42 L165.31,251.61 L165.87,251.80 L166.43,251.99 L166.98,252.17 L167.54,252.35 L168.09,252.53 L168.65,252.71 L169.20,252.88 L169.76,253.05 L170.31,253.21 L170.87,253.37 L171.43,253.53 L171.98,253.69 L172.54,253.84 L173.09,253.99 L173.65,254.14 L174.20,254.29 L174.76,254.43 L175.32,254.57 L175.87,254.71 L176.43,254.84 L176.98,254.98 L177.54,255.11 L178.09,255.24 L178.65,255.36 L179.20,255.49 L179.76,255.61 L180.32,255.73 L180.87,255.84 L181.43,255.96 L181.98,256.07 L182.54,256.18 L183.09,256.29 L183.65,256.40 L184.20,256.50 L184.76,256.61 L185.32,256.71 L185.87,256.81 L186.43,256.91 L186.98,257.00 L187.54,257.10 L188.09,257.19 L188.65,257.28 L189.21,257.37 L189.76,257.46 L190.32,257.55 L190.87,257.63 L191.43,257.71 L191.98,257.80 L192.54,257.88 L193.09,257.96 L193.65,258.03 L194.21,258.11 L194.76,258.18 L195.32,258.26 L195.87,258.33 L196.43,258.40 L196.98,258.47 L197.54,258.54 L198.09,258.61 L198.65,258.67 L199.21,258.74 L199.76,258.80 L200.32,258.86 L200.87,258.92 L201.43,258.98 L201.98,259.04 L202.54,259.10 L203.10,259.16 L203.65,259.21 L204.21,259.27 L204.76,259.32 L205.32,259.38 L205.87,259.43 L206.43,259.48 L206.98,259.53 L207.54,259.58 L208.10,259.63 L208.65,259.68 L209.21,259.72 L209.76,259.77 L210.32,259.81 L210.87,259.86 L211.43,259.90 L211.98,259.95 L212.54,259.99 L213.10,260.03 L213.65,260.07 L214.21,260.11 L214.76,260.15 L215.32,260.19 L215.87,260.22 L216.43,260.26 L216.99,260.30 L217.54,260.33 L218.10,260.37 L218.65,260.40 L219.21,260.44 L219.76,260.47 L220.32,260.50 L220.87,260.53 L221.43,260.57 L221.99,260.60 L222.54,260.63 L223.10,260.66 L223.65,260.69 L224.21,260.72 L224.76,260.74 L225.32,260.77 L225.87,260.80 L226.43,260.83 L226.99,260.85 L227.54,260.88 L228.10,260.90 L228.65,260.93 L229.21,260.95 L229.76,260.98 L230.32,261.00 L230.88,261.02 L231.43,261.05 L231.99,261.07 L232.54,261.09 L233.10,261.11 L233.65,261.13 L234.21,261.15 L234.76,261.18 L235.32,261.20" fill="none" stroke="#c88a44" stroke-width="1.15"/>
<path d="M124.20,219.80 L126.20,221.80 L124.20,223.80 L122.20,221.80 Z" fill="#9a6426"/>
<line x1="127.67" y1="226.60" x2="127.67" y2="237.60" stroke="#bf9870" stroke-width="0.8"/>
<line x1="126.17" y1="226.60" x2="129.17" y2="226.60" stroke="#bf9870" stroke-width="0.8"/>
<line x1="126.17" y1="237.60" x2="129.17" y2="237.60" stroke="#bf9870" stroke-width="0.8"/>
<path d="M127.67,229.58 L129.67,231.58 L127.67,233.58 L125.67,231.58 Z" fill="#9a6426"/>
<line x1="131.15" y1="203.80" x2="131.15" y2="225.40" stroke="#bf9870" stroke-width="0.8"/>
<line x1="129.65" y1="203.80" x2="132.65" y2="203.80" stroke="#bf9870" stroke-width="0.8"/>
<line x1="129.65" y1="225.40" x2="132.65" y2="225.40" stroke="#bf9870" stroke-width="0.8"/>
<path d="M131.15,212.59 L133.15,214.59 L131.15,216.59 L129.15,214.59 Z" fill="#9a6426"/>
<line x1="138.09" y1="222.80" x2="138.09" y2="238.60" stroke="#bf9870" stroke-width="0.8"/>
<line x1="136.59" y1="222.80" x2="139.59" y2="222.80" stroke="#bf9870" stroke-width="0.8"/>
<line x1="136.59" y1="238.60" x2="139.59" y2="238.60" stroke="#bf9870" stroke-width="0.8"/>
<path d="M138.09,228.90 L140.09,230.90 L138.09,232.90 L136.09,230.90 Z" fill="#9a6426"/>
<line x1="151.98" y1="245.70" x2="151.98" y2="255.80" stroke="#bf9870" stroke-width="0.8"/>
<line x1="150.48" y1="245.70" x2="153.48" y2="245.70" stroke="#bf9870" stroke-width="0.8"/>
<line x1="150.48" y1="255.80" x2="153.48" y2="255.80" stroke="#bf9870" stroke-width="0.8"/>
<path d="M151.98,248.78 L153.98,250.78 L151.98,252.78 L149.98,250.78 Z" fill="#9a6426"/>
<line x1="179.76" y1="256.30" x2="179.76" y2="260.40" stroke="#bf9870" stroke-width="0.8"/>
<line x1="178.26" y1="256.30" x2="181.26" y2="256.30" stroke="#bf9870" stroke-width="0.8"/>
<line x1="178.26" y1="260.40" x2="181.26" y2="260.40" stroke="#bf9870" stroke-width="0.8"/>
<path d="M179.76,256.88 L181.76,258.88 L179.76,260.88 L177.76,258.88 Z" fill="#9a6426"/>
<line x1="235.32" y1="252.00" x2="235.32" y2="263.50" stroke="#bf9870" stroke-width="0.8"/>
<line x1="233.82" y1="252.00" x2="236.82" y2="252.00" stroke="#bf9870" stroke-width="0.8"/>
<line x1="233.82" y1="263.50" x2="236.82" y2="263.50" stroke="#bf9870" stroke-width="0.8"/>
<path d="M235.32,255.88 L237.32,257.88 L235.32,259.88 L233.32,257.88 Z" fill="#9a6426"/>
<line x1="311.30" y1="201.50" x2="311.30" y2="282.90" stroke="#231f20" stroke-width="1.3"/>
<line x1="310.70" y1="282.30" x2="432.00" y2="282.30" stroke="#231f20" stroke-width="1.3"/>
<line x1="308.10" y1="274.20" x2="311.30" y2="274.20" stroke="#231f20" stroke-width="1.1"/>
<text x="304.70" y="276.55" font-size="6.5" fill="#2a2a2a" stroke="#2a2a2a" stroke-width="0.05" text-anchor="end">0</text>
<line x1="308.10" y1="256.55" x2="311.30" y2="256.55" stroke="#231f20" stroke-width="1.1"/>
<text x="304.70" y="258.90" font-size="6.5" fill="#2a2a2a" stroke="#2a2a2a" stroke-width="0.05" text-anchor="end">25</text>
<line x1="308.10" y1="238.90" x2="311.30" y2="238.90" stroke="#231f20" stroke-width="1.1"/>
<text x="304.70" y="241.25" font-size="6.5" fill="#2a2a2a" stroke="#2a2a2a" stroke-width="0.05" text-anchor="end">50</text>
<line x1="308.10" y1="221.25" x2="311.30" y2="221.25" stroke="#231f20" stroke-width="1.1"/>
<text x="304.70" y="223.60" font-size="6.5" fill="#2a2a2a" stroke="#2a2a2a" stroke-width="0.05" text-anchor="end">75</text>
<line x1="308.10" y1="203.60" x2="311.30" y2="203.60" stroke="#231f20" stroke-width="1.1"/>
<text x="304.70" y="205.95" font-size="6.5" fill="#2a2a2a" stroke="#2a2a2a" stroke-width="0.05" text-anchor="end">100</text>
<line x1="319.00" y1="282.30" x2="319.00" y2="285.60" stroke="#231f20" stroke-width="1.1"/>
<text x="319.00" y="294.20" font-size="6.5" fill="#2a2a2a" stroke="#2a2a2a" stroke-width="0.05" text-anchor="middle">0</text>
<line x1="337.50" y1="282.30" x2="337.50" y2="285.60" stroke="#231f20" stroke-width="1.1"/>
<text x="337.50" y="294.20" font-size="6.5" fill="#2a2a2a" stroke="#2a2a2a" stroke-width="0.05" text-anchor="middle">100</text>
<line x1="356.00" y1="282.30" x2="356.00" y2="285.60" stroke="#231f20" stroke-width="1.1"/>
<text x="356.00" y="294.20" font-size="6.5" fill="#2a2a2a" stroke="#2a2a2a" stroke-width="0.05" text-anchor="middle">200</text>
<line x1="374.50" y1="282.30" x2="374.50" y2="285.60" stroke="#231f20" stroke-width="1.1"/>
<text x="374.50" y="294.20" font-size="6.5" fill="#2a2a2a" stroke="#2a2a2a" stroke-width="0.05" text-anchor="middle">300</text>
<line x1="393.00" y1="282.30" x2="393.00" y2="285.60" stroke="#231f20" stroke-width="1.1"/>
<text x="393.00" y="294.20" font-size="6.5" fill="#2a2a2a" stroke="#2a2a2a" stroke-width="0.05" text-anchor="middle">400</text>
<line x1="411.50" y1="282.30" x2="411.50" y2="285.60" stroke="#231f20" stroke-width="1.1"/>
<text x="411.50" y="294.20" font-size="6.5" fill="#2a2a2a" stroke="#2a2a2a" stroke-width="0.05" text-anchor="middle">500</text>
<line x1="430.00" y1="282.30" x2="430.00" y2="285.60" stroke="#231f20" stroke-width="1.1"/>
<text x="430.00" y="294.20" font-size="6.5" fill="#2a2a2a" stroke="#2a2a2a" stroke-width="0.05" text-anchor="middle">600</text>
<text x="327.50" y="195.50" font-size="9.2" fill="#231f20" stroke="#231f20" stroke-width="0.12" textLength="89" lengthAdjust="spacingAndGlyphs">rVWF - Murine BMDMs</text>
<text x="358.70" y="206.70" font-size="6.5" fill="#231f20" stroke="#231f20" stroke-width="0.12" font-style="italic" textLength="24.0" lengthAdjust="spacingAndGlyphs">P &lt; .001</text>
<text x="351.50" y="306.00" font-size="8.4" fill="#231f20" stroke="#231f20" stroke-width="0.12" textLength="41.5" lengthAdjust="spacingAndGlyphs">Aptamer (nM)</text>
<text x="289.20" y="241.80" font-size="8.4" fill="#2e2e2e" stroke="#2e2e2e" stroke-width="0.02" text-anchor="middle" textLength="74.6" lengthAdjust="spacingAndGlyphs" transform="rotate(-90 289.20 241.80)">Macrophage binding (%)</text>
<path d="M318.90,203.60 L319.45,204.48 L320.01,205.34 L320.56,206.17 L321.12,206.98 L321.67,207.76 L322.23,208.52 L322.78,209.27 L323.34,209.99 L323.89,210.69 L324.45,211.37 L325.00,212.03 L325.56,212.67 L326.11,213.30 L326.67,213.91 L327.22,214.50 L327.78,215.07 L328.33,215.63 L328.89,216.17 L329.44,216.70 L330.00,217.21 L330.55,217.71 L331.11,218.19 L331.66,218.66 L332.22,219.12 L332.77,219.56 L333.33,220.00 L333.88,220.42 L334.44,220.82 L335.00,221.22 L335.55,221.60 L336.10,221.98 L336.66,222.34 L337.21,222.70 L337.77,223.04 L338.32,223.37 L338.88,223.70 L339.44,224.01 L339.99,224.32 L340.54,224.62 L341.10,224.91 L341.65,225.19 L342.21,225.46 L342.76,225.73 L343.32,225.99 L343.88,226.24 L344.43,226.48 L344.98,226.72 L345.54,226.95 L346.09,227.18 L346.65,227.39 L347.20,227.61 L347.76,227.81 L348.31,228.01 L348.87,228.21 L349.42,228.39 L349.98,228.58 L350.53,228.76 L351.09,228.93 L351.64,229.10 L352.20,229.26 L352.75,229.42 L353.31,229.58 L353.86,229.73 L354.42,229.87 L354.97,230.01 L355.53,230.15 L356.08,230.29 L356.64,230.42 L357.19,230.54 L357.75,230.67 L358.30,230.79 L358.86,230.90 L359.41,231.02 L359.97,231.13 L360.52,231.23 L361.08,231.34 L361.63,231.44 L362.19,231.54 L362.75,231.63 L363.30,231.72 L363.85,231.81 L364.41,231.90 L364.96,231.99 L365.52,232.07 L366.07,232.15 L366.63,232.23 L367.18,232.30 L367.74,232.38 L368.29,232.45 L368.85,232.52 L369.40,232.59 L369.96,232.65 L370.51,232.72 L371.07,232.78 L371.62,232.84 L372.18,232.90 L372.73,232.95 L373.29,233.01 L373.84,233.06 L374.40,233.12 L374.95,233.17 L375.51,233.22 L376.06,233.26 L376.62,233.31 L377.17,233.36 L377.73,233.40 L378.28,233.44 L378.84,233.49 L379.39,233.53 L379.95,233.57 L380.50,233.60 L381.06,233.64 L381.61,233.68 L382.17,233.71 L382.72,233.75 L383.28,233.78 L383.83,233.81 L384.39,233.84 L384.94,233.87 L385.50,233.90 L386.05,233.93 L386.61,233.96 L387.16,233.99 L387.72,234.01 L388.27,234.04 L388.83,234.06 L389.38,234.09 L389.94,234.11 L390.50,234.14 L391.05,234.16 L391.60,234.18 L392.16,234.20 L392.71,234.22 L393.27,234.24 L393.82,234.26 L394.38,234.28 L394.93,234.30 L395.49,234.31 L396.04,234.33 L396.60,234.35 L397.15,234.36 L397.71,234.38 L398.26,234.40 L398.82,234.41 L399.38,234.43 L399.93,234.44 L400.48,234.45 L401.04,234.47 L401.59,234.48 L402.15,234.49 L402.70,234.50 L403.26,234.52 L403.81,234.53 L404.37,234.54 L404.92,234.55 L405.48,234.56 L406.03,234.57 L406.59,234.58 L407.14,234.59 L407.70,234.60 L408.25,234.61 L408.81,234.62 L409.37,234.63 L409.92,234.64 L410.47,234.64 L411.03,234.65 L411.58,234.66 L412.14,234.67 L412.69,234.67 L413.25,234.68 L413.80,234.69 L414.36,234.70 L414.91,234.70 L415.47,234.71 L416.02,234.71 L416.58,234.72 L417.13,234.73 L417.69,234.73 L418.25,234.74 L418.80,234.74 L419.35,234.75 L419.91,234.75 L420.46,234.76 L421.02,234.76 L421.57,234.77 L422.13,234.77 L422.68,234.78 L423.24,234.78 L423.79,234.78 L424.35,234.79 L424.90,234.79 L425.46,234.80 L426.01,234.80 L426.57,234.80 L427.12,234.81 L427.68,234.81 L428.23,234.81 L428.79,234.82 L429.34,234.82 L429.90,234.82" fill="none" stroke="#6868c8" stroke-width="1.0"/>
<path d="M318.90,203.60 L319.45,209.35 L320.01,214.53 L320.56,219.20 L321.12,223.40 L321.67,227.18 L322.23,230.58 L322.78,233.65 L323.34,236.41 L323.89,238.89 L324.45,241.13 L325.00,243.14 L325.56,244.95 L326.11,246.59 L326.67,248.05 L327.22,249.38 L327.78,250.57 L328.33,251.64 L328.89,252.61 L329.44,253.48 L330.00,254.26 L330.55,254.96 L331.11,255.60 L331.66,256.17 L332.22,256.68 L332.77,257.15 L333.33,257.56 L333.88,257.94 L334.44,258.28 L335.00,258.58 L335.55,258.85 L336.10,259.10 L336.66,259.32 L337.21,259.52 L337.77,259.70 L338.32,259.86 L338.88,260.01 L339.44,260.14 L339.99,260.26 L340.54,260.37 L341.10,260.46 L341.65,260.55 L342.21,260.63 L342.76,260.70 L343.32,260.76 L343.88,260.82 L344.43,260.87 L344.98,260.91 L345.54,260.95 L346.09,260.99 L346.65,261.03 L347.20,261.06 L347.76,261.08 L348.31,261.11 L348.87,261.13 L349.42,261.15 L349.98,261.17 L350.53,261.18 L351.09,261.20 L351.64,261.21 L352.20,261.22 L352.75,261.23 L353.31,261.24 L353.86,261.25 L354.42,261.26 L354.97,261.27 L355.53,261.27 L356.08,261.28 L356.64,261.28 L357.19,261.29 L357.75,261.29 L358.30,261.29 L358.86,261.30 L359.41,261.30 L359.97,261.30 L360.52,261.31 L361.08,261.31 L361.63,261.31 L362.19,261.31 L362.75,261.31 L363.30,261.32 L363.85,261.32 L364.41,261.32 L364.96,261.32 L365.52,261.32 L366.07,261.32 L366.63,261.32 L367.18,261.32 L367.74,261.32 L368.29,261.32 L368.85,261.32 L369.40,261.32 L369.96,261.32 L370.51,261.32 L371.07,261.33 L371.62,261.33 L372.18,261.33 L372.73,261.33 L373.29,261.33 L373.84,261.33 L374.40,261.33 L374.95,261.33 L375.51,261.33 L376.06,261.33 L376.62,261.33 L377.17,261.33 L377.73,261.33 L378.28,261.33 L378.84,261.33 L379.39,261.33 L379.95,261.33 L380.50,261.33 L381.06,261.33 L381.61,261.33 L382.17,261.33 L382.72,261.33 L383.28,261.33 L383.83,261.33 L384.39,261.33 L384.94,261.33 L385.50,261.33 L386.05,261.33 L386.61,261.33 L387.16,261.33 L387.72,261.33 L388.27,261.33 L388.83,261.33 L389.38,261.33 L389.94,261.33 L390.50,261.33 L391.05,261.33 L391.60,261.33 L392.16,261.33 L392.71,261.33 L393.27,261.33 L393.82,261.33 L394.38,261.33 L394.93,261.33 L395.49,261.33 L396.04,261.33 L396.60,261.33 L397.15,261.33 L397.71,261.33 L398.26,261.33 L398.82,261.33 L399.38,261.33 L399.93,261.33 L400.48,261.33 L401.04,261.33 L401.59,261.33 L402.15,261.33 L402.70,261.33 L403.26,261.33 L403.81,261.33 L404.37,261.33 L404.92,261.33 L405.48,261.33 L406.03,261.33 L406.59,261.33 L407.14,261.33 L407.70,261.33 L408.25,261.33 L408.81,261.33 L409.37,261.33 L409.92,261.33 L410.47,261.33 L411.03,261.33 L411.58,261.33 L412.14,261.33 L412.69,261.33 L413.25,261.33 L413.80,261.33 L414.36,261.33 L414.91,261.33 L415.47,261.33 L416.02,261.33 L416.58,261.33 L417.13,261.33 L417.69,261.33 L418.25,261.33 L418.80,261.33 L419.35,261.33 L419.91,261.33 L420.46,261.33 L421.02,261.33 L421.57,261.33 L422.13,261.33 L422.68,261.33 L423.24,261.33 L423.79,261.33 L424.35,261.33 L424.90,261.33 L425.46,261.33 L426.01,261.33 L426.57,261.33 L427.12,261.33 L427.68,261.33 L428.23,261.33 L428.79,261.33 L429.34,261.33 L429.90,261.33" fill="none" stroke="#c88a44" stroke-width="1.15"/>
<circle cx="325.84" cy="210.80" r="1.2" fill="#6060c0"/>
<line x1="332.77" y1="210.20" x2="332.77" y2="220.40" stroke="#a4a4e0" stroke-width="0.8"/>
<line x1="331.17" y1="210.20" x2="334.38" y2="210.20" stroke="#a4a4e0" stroke-width="0.8"/>
<line x1="331.17" y1="220.40" x2="334.38" y2="220.40" stroke="#a4a4e0" stroke-width="0.8"/>
<circle cx="332.77" cy="216.70" r="1.2" fill="#6060c0"/>
<line x1="346.65" y1="219.10" x2="346.65" y2="254.60" stroke="#a4a4e0" stroke-width="0.8"/>
<line x1="345.05" y1="219.10" x2="348.25" y2="219.10" stroke="#a4a4e0" stroke-width="0.8"/>
<line x1="345.05" y1="254.60" x2="348.25" y2="254.60" stroke="#a4a4e0" stroke-width="0.8"/>
<circle cx="346.65" cy="236.90" r="1.2" fill="#6060c0"/>
<line x1="429.90" y1="228.00" x2="429.90" y2="235.10" stroke="#a4a4e0" stroke-width="0.8"/>
<line x1="428.30" y1="228.00" x2="431.50" y2="228.00" stroke="#a4a4e0" stroke-width="0.8"/>
<line x1="428.30" y1="235.10" x2="431.50" y2="235.10" stroke="#a4a4e0" stroke-width="0.8"/>
<circle cx="429.90" cy="232.60" r="1.2" fill="#6060c0"/>
<path d="M318.90,201.60 L320.90,203.60 L318.90,205.60 L316.90,203.60 Z" fill="#9a6426"/>
<line x1="325.84" y1="234.30" x2="325.84" y2="257.20" stroke="#bf9870" stroke-width="0.8"/>
<line x1="324.34" y1="234.30" x2="327.34" y2="234.30" stroke="#bf9870" stroke-width="0.8"/>
<line x1="324.34" y1="257.20" x2="327.34" y2="257.20" stroke="#bf9870" stroke-width="0.8"/>
<path d="M325.84,243.80 L327.84,245.80 L325.84,247.80 L323.84,245.80 Z" fill="#9a6426"/>
<path d="M332.77,256.00 L334.77,258.00 L332.77,260.00 L330.77,258.00 Z" fill="#9a6426"/>
<line x1="346.65" y1="257.20" x2="346.65" y2="266.00" stroke="#bf9870" stroke-width="0.8"/>
<line x1="345.15" y1="257.20" x2="348.15" y2="257.20" stroke="#bf9870" stroke-width="0.8"/>
<line x1="345.15" y1="266.00" x2="348.15" y2="266.00" stroke="#bf9870" stroke-width="0.8"/>
<path d="M346.65,259.50 L348.65,261.50 L346.65,263.50 L344.65,261.50 Z" fill="#9a6426"/>
<line x1="429.90" y1="249.60" x2="429.90" y2="271.10" stroke="#bf9870" stroke-width="0.8"/>
<line x1="428.40" y1="249.60" x2="431.40" y2="249.60" stroke="#bf9870" stroke-width="0.8"/>
<line x1="428.40" y1="271.10" x2="431.40" y2="271.10" stroke="#bf9870" stroke-width="0.8"/>
<path d="M429.90,259.00 L431.90,261.00 L429.90,263.00 L427.90,261.00 Z" fill="#9a6426"/>
<line x1="394.10" y1="204.60" x2="402.30" y2="204.60" stroke="#6868c8" stroke-width="1.0"/>
<circle cx="398.3" cy="204.6" r="1.2" fill="#6060c0"/>
<line x1="394.10" y1="212.30" x2="402.30" y2="212.30" stroke="#c88a44" stroke-width="1.2"/>
<circle cx="398.2" cy="212.3" r="1.5" fill="#9a6426"/>
<text x="405.70" y="207.10" font-size="6.6" fill="#231f20" stroke="#231f20" stroke-width="0.12" textLength="18.2" lengthAdjust="spacingAndGlyphs">BT100</text>
<text x="405.70" y="214.50" font-size="6.6" fill="#231f20" stroke="#231f20" stroke-width="0.12" textLength="18.2" lengthAdjust="spacingAndGlyphs">BT200</text>
<rect x="0.7" y="0.7" width="518.6" height="313.6" fill="none" stroke="#585858" stroke-width="1.4"/>
</svg></div></body></html>
